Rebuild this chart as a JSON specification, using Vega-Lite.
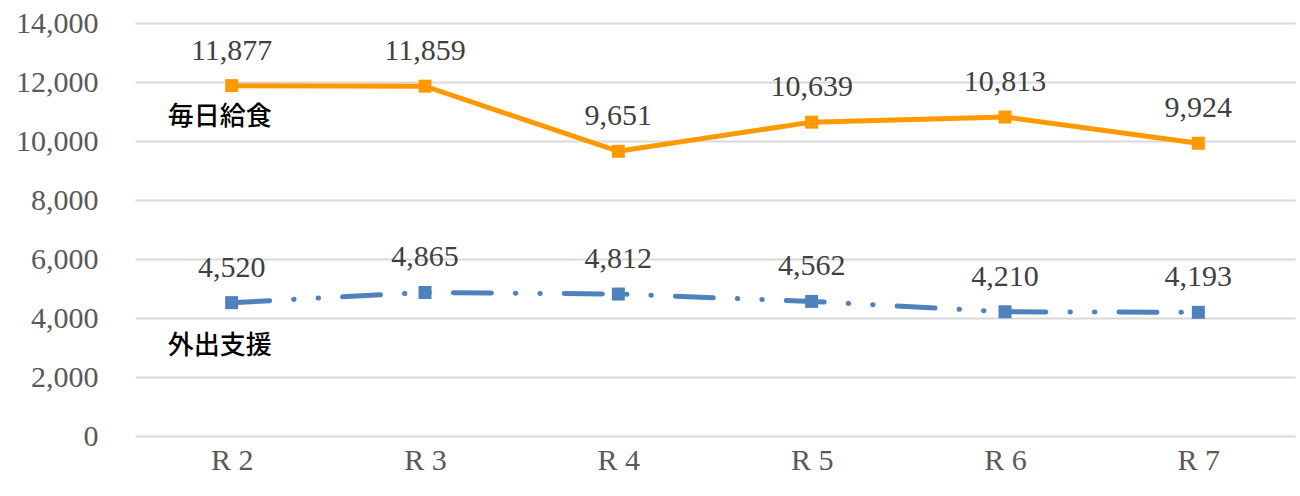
{
  "$schema": "https://vega.github.io/schema/vega-lite/v6.json",
  "autosize": "none",
  "width": 1160,
  "height": 413,
  "padding": {"left": 135, "top": 23, "right": 5, "bottom": 60},
  "background": "white",
  "config": {"view": {"stroke": null}, "font": "Liberation Serif"},
  "datasets": {
    "main": [
      {"year": "R 2", "series": "毎日給食", "value": 11877},
      {"year": "R 3", "series": "毎日給食", "value": 11859},
      {"year": "R 4", "series": "毎日給食", "value": 9651},
      {"year": "R 5", "series": "毎日給食", "value": 10639},
      {"year": "R 6", "series": "毎日給食", "value": 10813},
      {"year": "R 7", "series": "毎日給食", "value": 9924},
      {"year": "R 2", "series": "外出支援", "value": 4520},
      {"year": "R 3", "series": "外出支援", "value": 4865},
      {"year": "R 4", "series": "外出支援", "value": 4812},
      {"year": "R 5", "series": "外出支援", "value": 4562},
      {"year": "R 6", "series": "外出支援", "value": 4210},
      {"year": "R 7", "series": "外出支援", "value": 4193}
    ],
    "labels": [
      {"year": "R 2", "series": "毎日給食", "value": 10810},
      {"year": "R 2", "series": "外出支援", "value": 3050}
    ]
  },
  "encoding": {
    "x": {
      "field": "year", "type": "nominal", "sort": null,
      "scale": {"type": "point", "padding": 0.5},
      "axis": {"title": null, "domain": false, "ticks": false, "labelAngle": 0, "labelFontSize": 30, "labelColor": "#595959", "labelPadding": 9, "grid": false}
    },
    "y": {
      "field": "value", "type": "quantitative",
      "scale": {"domain": [0, 14000], "nice": false},
      "axis": {"title": null, "values": [0, 2000, 4000, 6000, 8000, 10000, 12000, 14000], "format": ",.0f", "domain": false, "ticks": false, "grid": true, "gridColor": "#d9d9d9", "gridWidth": 2, "labelFontSize": 30, "labelColor": "#595959", "labelPadding": 37}
    }
  },
  "layer": [
    {
      "data": {"name": "main"},
      "transform": [{"filter": "datum.series === '毎日給食'"}],
      "mark": {"type": "line", "color": "#FF9900", "strokeWidth": 5}
    },
    {
      "data": {"name": "main"},
      "transform": [{"filter": "datum.series === '外出支援'"}],
      "mark": {"type": "line", "color": "#4F81BD", "strokeWidth": 5, "strokeCap": "round", "strokeDash": [38, 24, 0.5, 24, 0.5, 24]}
    },
    {
      "data": {"name": "main"},
      "mark": {"type": "point", "shape": "square", "filled": true, "size": 169, "opacity": 1},
      "encoding": {
        "color": {"field": "series", "type": "nominal", "scale": {"domain": ["毎日給食", "外出支援"], "range": ["#FF9900", "#4F81BD"]}, "legend": null}
      }
    },
    {
      "data": {"name": "main"},
      "mark": {"type": "text", "dy": -35, "fontSize": 30, "color": "#404040", "baseline": "middle", "align": "center"},
      "encoding": {
        "text": {"field": "value", "type": "quantitative", "format": ","}
      }
    },
    {
      "data": {"name": "labels"},
      "mark": {"type": "text", "align": "left", "baseline": "middle", "dx": -64, "font": "Noto Sans CJK JP", "fontSize": 26, "fontWeight": 500, "color": "#000000"},
      "encoding": {
        "text": {"field": "series", "type": "nominal"}
      }
    }
  ]
}
